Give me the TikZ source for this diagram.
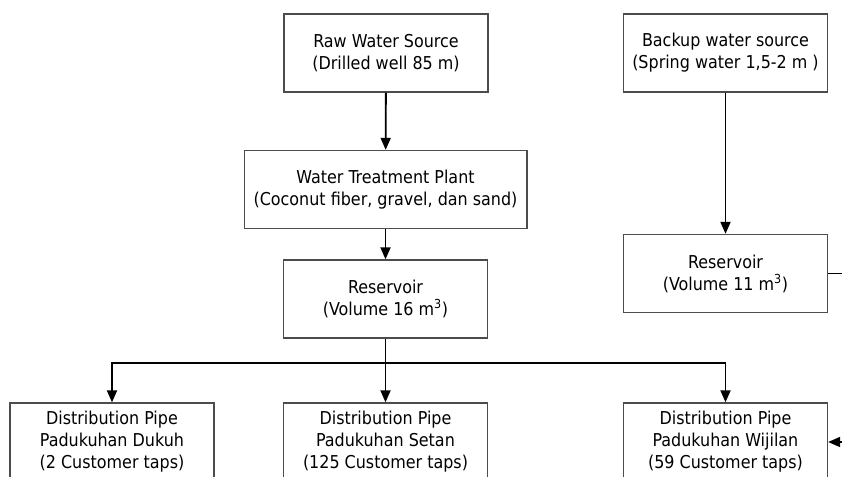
\documentclass[tikz,border=0pt]{standalone}
\usepackage{fontspec}
\setmainfont{DejaVu Sans Condensed}
\usetikzlibrary{arrows.meta}
\tikzset{
  box/.style={draw=black!70, line width=1pt, align=center, minimum width=153pt,
    minimum height=58.5pt, inner sep=0pt, font=\fontsize{13.3}{16.5}\selectfont},
  widebox/.style={box, minimum width=212pt},
  flow/.style={-{Triangle[width=7.5pt,length=9pt]}, line width=1.4pt},
}
\begin{document}
\begin{tikzpicture}[x=0.75pt,y=-0.75pt]
    \clip (0,0) rectangle (842,477);

    % main source line
    \node[box] (raw) at (386,53) {Raw Water Source\\(Drilled well 85 m)};
    \node[widebox] (wtp) at (385.5,189.5) {Water Treatment Plant\\(Coconut fiber, gravel, dan sand)};
    \node[box] (res16) at (385.5,299) {Reservoir\\(Volume 16 m\textsuperscript{3})};

    % backup line
    \node[box] (backup) at (725.5,53) {Backup water source\\(Spring water 1,5-2 m )};
    \node[box] (res11) at (725.5,273.5) {Reservoir\\(Volume 11 m\textsuperscript{3})};

    % distribution pipes
    \node[box] (dukuh) at (112,442) {Distribution Pipe\\Padukuhan Dukuh\\(2 Customer taps)};
    \node[box] (setan) at (385.5,442) {Distribution Pipe\\Padukuhan Setan\\(125 Customer taps)};
    \node[box] (wijilan) at (725.5,442) {Distribution Pipe\\Padukuhan Wijilan\\(59 Customer taps)};

    % flows
    \draw[flow] (raw) -- (wtp);
    \draw[flow] (wtp) -- (res16);
    \draw[flow] (backup) -- (res11);
    \draw[line width=1.4pt] (res16.south) -- ++(0,24) coordinate (split);
    \draw[flow] (split) -| (dukuh.north);
    \draw[flow] (split) -- (setan.north);
    \draw[flow] (split) -| (wijilan.north);
    \draw[flow] (res11.east) -- ++(40,0) |- (wijilan.east);
\end{tikzpicture}
\end{document}
